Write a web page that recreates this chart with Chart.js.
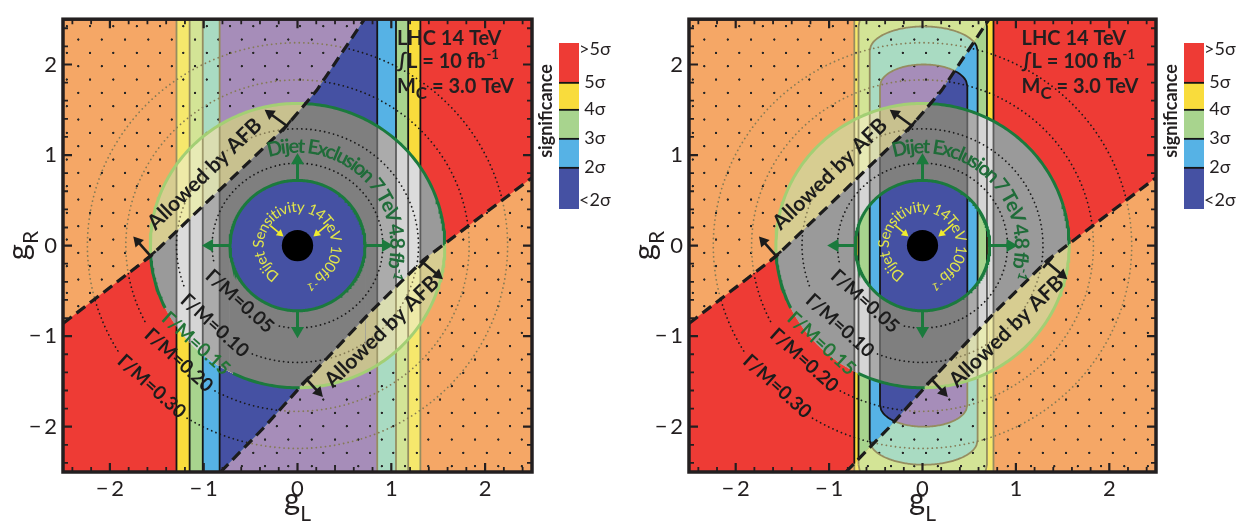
<!DOCTYPE html>
<html>
<head>
<meta charset="utf-8">
<title>AFB vs dijet significance</title>
<script src="https://cdn.jsdelivr.net/npm/chart.js@4.4.1/dist/chart.umd.min.js"></script>
<style>
  html, body { margin: 0; padding: 0; background: #fff; }
  #page { position: relative; width: 1252px; height: 529px; overflow: hidden; }
  #page canvas { position: absolute; top: 0; }
</style>
</head>
<body>
<div id="page">
  <canvas id="barL" width="100" height="529" style="left:530px;width:100px;height:529px"></canvas>
  <canvas id="barR" width="100" height="529" style="left:1155px;width:100px;height:529px"></canvas>
  <canvas id="mainL" width="545" height="529" style="left:0px;width:545px;height:529px"></canvas>
  <canvas id="mainR" width="545" height="529" style="left:626px;width:545px;height:529px"></canvas>
</div>
<script>
// axis ticks (gL and gR share them)
const gTicks = [-2, -1, 0, 1, 2];
const gMinorTicks = [-2.4, -2.2, -1.8, -1.6, -1.4, -1.2, -0.8, -0.6, -0.4, -0.2,
                     0.2, 0.4, 0.6, 0.8, 1.2, 1.4, 1.6, 1.8, 2.2, 2.4];

// AFB boundaries (dashed lines)
const afbUpperGL = [-2.5, -1.57, -0.115, 0.205, 0.72];
const afbUpperGR = [-0.86, -0.12, 1.324, 1.714, 2.51];
const afbLowerGL = [-0.82, -0.365, 0.10, 0.773, 1.34, 2.5];
const afbLowerGR = [-2.5, -2.017, -1.48, -0.738, -0.16, 0.75];

// "Allowed by AFB" arrows and labels
const afbArrowFromGL = [-1.57, -0.115, 0.10, 1.34];
const afbArrowFromGR = [-0.11, 1.324, -1.48, -0.19];
const afbArrowToGL = [-1.75, -0.35, 0.27, 1.55];
const afbArrowToGR = [0.10, 1.50, -1.67, -0.37];
const afbTextGL = [-0.99, 0.90];
const afbTextGR = [0.79, -0.95];

// width contours
const widthLabels = ['0.05', '0.10', '0.15', '0.20', '0.30'];
const widthRadii = [0.91, 1.29, 1.57, 1.83, 2.24];

// dijet circles
const dijetExclRadius = 1.57;   // 7 TeV, 4.8 fb-1
const dijetSensRadius = 0.72;   // 14 TeV, 100 fb-1
const coreRadius = 0.167;
const dijetArrowAngles = [90, 0, 270, 180];
const dijetArrowTipR = 1.02;
const sensArrowFromGL = [-0.29, 0.33];
const sensArrowFromGR = [0.22, 0.24];
const sensArrowToGL = [-0.15, 0.17];
const sensArrowToGR = [0.10, 0.10];

// significance contours, outermost first: 5σ, 4σ, 3σ, 2σ
// left/right gL edge, gR where the side turns into a cap, gR of the cap top
const lumi10Left = [-1.29, -1.15, -1.01, -0.83];
const lumi10Right = [1.31, 1.18, 1.05, 0.85];
const lumi10Shoulder = [3, 3, 3, 3];
const lumi10Apex = [3, 3, 3, 3];
const lumi100Left = [-0.73, -0.685, -0.565, -0.455];
const lumi100Right = [0.76, 0.69, 0.59, 0.48];
const lumi100Shoulder = [3, 2.42, 2.15, 1.76];
const lumi100Apex = [3, 2.75, 2.42, 2.0];

// colours per level: >5σ, 4-5σ, 3-4σ, 2-3σ, <2σ
const sigColors = ['#EE3B35', '#F9DC3C', '#A8D48E', '#56B2E5', '#4551A3'];
const fadedColors = ['#F5A766', '#F6E86C', '#D3E496', '#A9DBC2', '#A68DB9'];
const tanColors = ['#D7CD91', '#EEEAA8', '#E7EAB5', '#DADDB1', '#C8C18F'];
const greyColors = ['#9A9A9A', '#DCDCDC', '#D5D5D5', '#ABABAB', '#7F7F7F'];

// colour bar
const sigLevels = ['<2σ', '2σ', '3σ', '4σ', '5σ', '>5σ'];
const barHeights = [42, 29, 29, 27, 39];
const barLabelPos = [9, 42, 71, 100, 127, 160];
const barColors = sigColors.slice().reverse();

// info block
const infoGL = 1.06;
const infoGR = [2.22, 1.96, 1.68];

const DARK_GREEN = '#1B7A3D';
const LIGHT_GREEN = '#A3CF74';
const INK = '#231F20';
const FONT = 'Lato, "Open Sans", sans-serif';
const PX = 93.6;
const STEP = 0.012;
const EPS = 1e-4;

const clampY = v => Math.max(-2.6, Math.min(2.6, v));

function polyEval(xs, ys, x) {
  let i = 0;
  while (i < xs.length - 2 && x > xs[i + 1]) i++;
  const t = (x - xs[i]) / (xs[i + 1] - xs[i]);
  return ys[i] + t * (ys[i + 1] - ys[i]);
}
const upperAt = x => polyEval(afbUpperGL, afbUpperGR, x);
const lowerAt = x => polyEval(afbLowerGL, afbLowerGR, x);
const inStrip = (x, y) => y <= upperAt(x) && y >= lowerAt(x);

function contourColor(x, y) {
  const r = Math.hypot(x, y);
  if (r < dijetSensRadius) return '#151515';
  const s = inStrip(x, y);
  if (r < dijetExclRadius) return s ? '#5c5c5c' : '#a09a6c';
  return s ? '#151515' : '#958d60';
}
const dottedColor = (x, y) => (inStrip(x, y) ? '#1a1a1a' : '#857b55');
const mid = c => [(c.p0.parsed.x + c.p1.parsed.x) / 2, (c.p0.parsed.y + c.p1.parsed.y) / 2];

function sampleXs(a, b, extra) {
  const xs = [];
  const n = Math.max(2, Math.ceil((b - a) / STEP));
  for (let i = 0; i <= n; i++) xs.push(a + (b - a) * i / n);
  (extra || []).forEach(e => { if (e > a && e < b) xs.push(e); });
  return xs.sort((p, q) => p - q);
}

function bandPolygon(a, b, topFn, botFn, extra) {
  const top = [], bot = [];
  sampleXs(a, b, extra).forEach(x => {
    let t = clampY(topFn(x)), lo = clampY(botFn(x));
    if (t < lo) { t = lo = (t + lo) / 2; }
    top.push({ x, y: t });
    bot.push({ x, y: lo });
  });
  return top.concat(bot.reverse());
}

function shapeOf(P, k) {
  if (k === 0) return { x0: -2.5, x1: 2.5, top: () => 3, bot: () => -3 };
  const x0 = P.left[k - 1], x1 = P.right[k - 1];
  const s = P.shoulder[k - 1], a = P.apex[k - 1];
  const xc = (x0 + x1) / 2, hw = (x1 - x0) / 2;
  const top = x => {
    const u = (x - xc) / hw;
    return s + (a - s) * Math.sqrt(Math.max(0, 1 - u * u));
  };
  return { x0, x1, top, bot: x => -top(x) };
}

function outlinePoints(S) {
  const pts = [];
  const s = Math.min(S.top(S.x0), 2.55);
  for (let y = -s; y < s; y += 0.02) pts.push({ x: S.x0, y });
  sampleXs(S.x0, S.x1).forEach(x => pts.push({ x, y: Math.min(S.top(x), 2.55) }));
  for (let y = s; y > -s; y -= 0.02) pts.push({ x: S.x1, y });
  sampleXs(S.x0, S.x1).reverse().forEach(x => pts.push({ x, y: Math.max(S.bot(x), -2.55) }));
  return pts;
}

function arcPoints(r, a0, a1) {
  const pts = [];
  const n = Math.ceil(Math.abs(a1 - a0));
  for (let i = 0; i <= n; i++) {
    const a = (a0 + (a1 - a0) * i / n) * Math.PI / 180;
    pts.push({ x: r * Math.cos(a), y: r * Math.sin(a) });
  }
  return pts;
}

function fillDs(points, color, order) {
  return { data: points, fill: 'shape', backgroundColor: color, borderWidth: 0, pointRadius: 0, order };
}

function dotPattern(chart) {
  if (chart.$dots) return chart.$dots;
  if (!chart.chartArea || !chart.ctx) return 'rgba(0,0,0,0)';
  const c = document.createElement('canvas');
  c.width = 70; c.height = 80;
  const g = c.getContext('2d');
  g.fillStyle = '#262626';
  [[0, 0], [70, 0], [0, 80], [70, 80], [35, 40]].forEach(([x, y]) => {
    g.beginPath(); g.arc(x, y, 3.4, 0, 2 * Math.PI); g.fill();
  });
  const p = chart.ctx.createPattern(c, 'repeat');
  p.setTransform(new DOMMatrix([1 / 3, 0, 0, 1 / 3, chart.chartArea.left + 3.7, chart.chartArea.top + 7]));
  chart.$dots = p;
  return p;
}

function arrowDs(b, t, color, width, head, order) {
  const dx = t.x - b.x, dy = t.y - b.y, L = Math.hypot(dx, dy);
  const back = head / PX;
  const c = { x: t.x - dx / L * back, y: t.y - dy / L * back };
  return {
    data: [b, c], borderColor: color, borderWidth: width, fill: false,
    pointRadius: [0, head], pointStyle: 'triangle', pointBackgroundColor: color,
    pointBorderColor: color, pointBorderWidth: 0,
    pointRotation: ctx => {
      const s = ctx.chart.scales;
      if (!s || !s.x || !s.y) return 0;
      const kx = s.x.getPixelForValue(1) - s.x.getPixelForValue(0);
      const ky = s.y.getPixelForValue(0) - s.y.getPixelForValue(1);
      return Math.atan2(dx * kx, dy * ky) * 180 / Math.PI;
    },
    order
  };
}

function buildDatasets(P) {
  const ds = [];
  const R = dijetExclRadius, rin = dijetSensRadius;
  const oT = x => Math.sqrt(Math.max(0, R * R - x * x));
  const iT = x => Math.sqrt(Math.max(0, rin * rin - x * x));
  const holeTop = x => (Math.abs(x) < rin ? iT(x) : -oT(x));
  const holeBot = x => (Math.abs(x) < rin ? -iT(x) : -oT(x));
  const brk = [-rin - EPS, -rin + EPS, rin - EPS, rin + EPS];

  for (let k = 0; k < 5; k++) {
    const S = shapeOf(P, k);
    ds.push(fillDs(bandPolygon(S.x0, S.x1, S.top, S.bot), fadedColors[k], 1000 - k));
    ds.push(fillDs(bandPolygon(S.x0, S.x1,
      x => Math.min(S.top(x), upperAt(x)), x => Math.max(S.bot(x), lowerAt(x))), sigColors[k], 980 - k));
    const a = Math.max(S.x0, -R), b = Math.min(S.x1, R);
    ds.push(fillDs(bandPolygon(a, b, x => Math.min(S.top(x), oT(x)),
      x => Math.max(S.bot(x), holeTop(x)), brk), tanColors[k], 970 - k));
    ds.push(fillDs(bandPolygon(a, b, x => Math.min(S.top(x), holeBot(x)),
      x => Math.max(S.bot(x), -oT(x)), brk), tanColors[k], 970 - k));
    ds.push(fillDs(bandPolygon(a, b, x => Math.min(S.top(x), oT(x), upperAt(x)),
      x => Math.max(S.bot(x), holeTop(x), lowerAt(x)), brk), greyColors[k], 960 - k));
    ds.push(fillDs(bandPolygon(a, b, x => Math.min(S.top(x), holeBot(x), upperAt(x)),
      x => Math.max(S.bot(x), -oT(x), lowerAt(x)), brk), greyColors[k], 960 - k));
    if (k > 0) {
      ds.push({
        data: outlinePoints(S), borderWidth: 1.8, borderColor: '#151515', fill: false, pointRadius: 0,
        segment: { borderColor: c => contourColor(...mid(c)) }, order: 950
      });
    }
  }
  // texture of the AFB-excluded area
  ds.push({
    data: [{ x: -2.5, y: 2.6 }, { x: 2.5, y: 2.6 }, { x: 2.5, y: -2.6 }, { x: -2.5, y: -2.6 }],
    fill: 'shape', backgroundColor: c => dotPattern(c.chart), borderWidth: 0, pointRadius: 0, order: 990
  });

  // Γ/M circles
  widthRadii.forEach((r, i) => {
    const gap = (0.52 / r) * 180 / Math.PI;
    if (i === 2) {
      ds.push({
        data: arcPoints(r, 225 + gap, 585 - gap), borderWidth: 3, borderColor: DARK_GREEN, fill: false, pointRadius: 0,
        segment: { borderColor: c => (inStrip(...mid(c)) ? DARK_GREEN : LIGHT_GREEN) }, order: 935
      });
      return;
    }
    ds.push({
      data: arcPoints(r, 225 + gap, 585 - gap), borderWidth: 1.8, borderDash: [0.01, 4.6], borderCapStyle: 'round',
      borderColor: '#1a1a1a', fill: false, pointRadius: 0,
      segment: { borderColor: c => dottedColor(...mid(c)) }, order: 940
    });
  });
  ds.push({ data: arcPoints(dijetSensRadius, 0, 360), borderWidth: 3, borderColor: DARK_GREEN, fill: false, pointRadius: 0, order: 935 });
  ds.push({
    data: [{ x: 0, y: 0 }], showLine: false, pointBackgroundColor: '#000', pointBorderWidth: 0, order: 930,
    pointRadius: c => {
      const s = c.chart.scales;
      if (!s || !s.x) return 15;
      return coreRadius * (s.x.getPixelForValue(1) - s.x.getPixelForValue(0));
    }
  });

  // AFB dashed boundaries
  ds.push({ data: afbUpperGL.map((x, i) => ({ x, y: afbUpperGR[i] })), borderWidth: 3.2, borderDash: [11, 6],
    borderColor: '#1c1c1c', fill: false, pointRadius: 0, order: 920 });
  ds.push({ data: afbLowerGL.map((x, i) => ({ x, y: afbLowerGR[i] })), borderWidth: 3.2, borderDash: [11, 6],
    borderColor: '#1c1c1c', fill: false, pointRadius: 0, order: 920 });

  // AFB arrows with a bar at their foot
  afbArrowFromGL.forEach((x, i) => {
    const b = { x, y: afbArrowFromGR[i] }, t = { x: afbArrowToGL[i], y: afbArrowToGR[i] };
    ds.push(arrowDs(b, t, '#1c1c1c', 2.6, 6.5, 910));
    const dx = t.x - b.x, dy = t.y - b.y, L = Math.hypot(dx, dy), h = 0.075;
    ds.push({ data: [{ x: b.x + dy / L * h, y: b.y - dx / L * h }, { x: b.x - dy / L * h, y: b.y + dx / L * h }],
      borderWidth: 2.6, borderColor: '#1c1c1c', fill: false, pointRadius: 0, order: 910 });
  });
  // dijet exclusion arrows
  dijetArrowAngles.forEach(a => {
    const c = Math.cos(a * Math.PI / 180), s = Math.sin(a * Math.PI / 180);
    ds.push(arrowDs({ x: dijetSensRadius * c, y: dijetSensRadius * s },
      { x: dijetArrowTipR * c, y: dijetArrowTipR * s }, DARK_GREEN, 3, 7.5, 905));
  });
  // dijet sensitivity arrows
  sensArrowFromGL.forEach((x, i) => {
    ds.push(arrowDs({ x, y: sensArrowFromGR[i] }, { x: sensArrowToGL[i], y: sensArrowToGR[i] }, '#F0EC2E', 1.6, 4.5, 905));
  });
  return ds;
}

function arcText(ctx, parts, cx, cy, r, a0, a1, color) {
  const glyphs = [];
  parts.forEach(p => {
    ctx.font = p.font;
    for (const ch of p.text) glyphs.push({ ch, font: p.font, w: ctx.measureText(ch).width, rise: p.rise || 0 });
  });
  const total = glyphs.reduce((s, g) => s + g.w, 0);
  const k = ((a1 - a0) * Math.PI / 180) * r / total;
  let a = a0 * Math.PI / 180;
  ctx.fillStyle = color;
  ctx.textAlign = 'center';
  ctx.textBaseline = 'alphabetic';
  glyphs.forEach(g => {
    const da = g.w * k / r, m = a + da / 2;
    ctx.save();
    ctx.translate(cx + r * Math.sin(m), cy - r * Math.cos(m));
    ctx.rotate(m);
    ctx.font = g.font;
    ctx.fillText(g.ch, 0, -g.rise);
    ctx.restore();
    a += da;
  });
}

function makeDecor(P) {
  return {
    id: 'decor' + P.id,
    afterDatasetsDraw(chart) {
      const { ctx, chartArea: ca, scales } = chart;
      const X = v => scales.x.getPixelForValue(v), Y = v => scales.y.getPixelForValue(v);
      const u = X(1) - X(0);
      const cx = X(0), cy = Y(0);
      ctx.save();

      // Γ/M labels sit on their circles
      ctx.textAlign = 'center';
      ctx.textBaseline = 'middle';
      ctx.font = 'bold 19px ' + FONT;
      widthLabels.forEach((lab, i) => {
        const r = widthRadii[i] - 0.04, a = 225 * Math.PI / 180;
        ctx.save();
        ctx.translate(X(r * Math.cos(a)), Y(r * Math.sin(a)));
        ctx.rotate(42 * Math.PI / 180);
        ctx.fillStyle = i === 2 ? '#237536' : '#1c1c1c';
        ctx.fillText('Γ/M=' + lab, 0, 0);
        ctx.restore();
      });

      arcText(ctx, [{ text: 'Dijet Exclusion 7 TeV 4.8 fb', font: 'bold 20px ' + FONT },
                    { text: '-1', font: 'bold 13px ' + FONT, rise: 8 }],
        cx, cy, 0.99 * u, -17, 109, '#1F6C39');
      arcText(ctx, [{ text: 'Dijet Sensitivity 14TeV 100fb', font: '15px ' + FONT },
                    { text: '-1', font: '11px ' + FONT, rise: 6 }],
        cx, cy, 0.36 * u, -148, 167, '#E1E54A');

      ctx.font = 'bold 21px ' + FONT;
      ctx.fillStyle = '#1c1c1c';
      ctx.textAlign = 'center';
      ctx.textBaseline = 'middle';
      afbTextGL.forEach((x, i) => {
        ctx.save();
        ctx.translate(X(x), Y(afbTextGR[i]));
        ctx.rotate(-44 * Math.PI / 180);
        ctx.fillText('Allowed by AFB', 0, 0);
        ctx.restore();
      });

      // info block
      const ix = X(infoGL);
      ctx.textAlign = 'left';
      ctx.textBaseline = 'alphabetic';
      ctx.fillStyle = INK;
      ctx.font = 'bold 20px ' + FONT;
      ctx.fillText('LHC 14 TeV', ix, Y(infoGR[0]));
      let t = '\u222BL = ' + P.lumi + ' fb';
      ctx.fillText(t, ix, Y(infoGR[1]));
      let w = ctx.measureText(t).width;
      ctx.font = 'bold 13px ' + FONT;
      ctx.fillText('-1', ix + w + 1, Y(infoGR[1]) - 9);
      ctx.font = 'bold 20px ' + FONT;
      ctx.fillText('M', ix, Y(infoGR[2]));
      w = ctx.measureText('M').width;
      ctx.font = 'bold 17px ' + FONT;
      ctx.fillText('C', ix + w, Y(infoGR[2]) + 6);
      w += ctx.measureText('C').width;
      ctx.font = 'bold 20px ' + FONT;
      ctx.fillText(' = 3.0 TeV', ix + w, Y(infoGR[2]));

      // inward ticks and frame
      ctx.strokeStyle = INK;
      const tick = (v, len) => {
        const px = X(v), py = Y(v);
        ctx.beginPath();
        ctx.moveTo(px, ca.bottom); ctx.lineTo(px, ca.bottom - len);
        ctx.moveTo(px, ca.top); ctx.lineTo(px, ca.top + len);
        ctx.moveTo(ca.left, py); ctx.lineTo(ca.left + len, py);
        ctx.moveTo(ca.right, py); ctx.lineTo(ca.right - len, py);
        ctx.stroke();
      };
      ctx.lineWidth = 2.2;
      gTicks.forEach(v => tick(v, 9));
      ctx.lineWidth = 1.8;
      gMinorTicks.forEach(v => tick(v, 5));
      ctx.lineWidth = 3.5;
      ctx.strokeRect(ca.left, ca.top, ca.right - ca.left, ca.bottom - ca.top);

      // axis titles with subscripts
      ctx.fillStyle = INK;
      ctx.textAlign = 'left';
      ctx.font = '31px ' + FONT;
      const wg = ctx.measureText('g').width;
      ctx.font = '21px ' + FONT;
      const wl = ctx.measureText('L').width;
      let x0 = cx - (wg + wl) / 2;
      ctx.font = '31px ' + FONT;
      ctx.fillText('g', x0, ca.bottom + 38);
      ctx.font = '21px ' + FONT;
      ctx.fillText('L', x0 + wg, ca.bottom + 49);

      ctx.save();
      ctx.translate(ca.left - 34, cy);
      ctx.rotate(-Math.PI / 2);
      ctx.font = '21px ' + FONT;
      const wr = ctx.measureText('R').width;
      x0 = -(wg + wr) / 2;
      ctx.font = '31px ' + FONT;
      ctx.fillText('g', x0, 0);
      ctx.font = '21px ' + FONT;
      ctx.fillText('R', x0 + wg, 9);
      ctx.restore();

      ctx.restore();
    }
  };
}

function minusLabel(v) {
  return v < 0 ? '\u2212\u2009' + Math.abs(v) : String(v);
}

function makePanel(P, padRight) {
  return new Chart(document.getElementById(P.id), {
    type: 'line',
    data: { datasets: buildDatasets(P) },
    options: {
      responsive: false,
      animation: false,
      events: [],
      layout: { padding: { top: 3, right: padRight, left: 0, bottom: 0 } },
      elements: { point: { radius: 0 }, line: { tension: 0 } },
      plugins: { legend: { display: false }, tooltip: { enabled: false } },
      scales: {
        x: {
          type: 'linear', min: -2.5, max: 2.5,
          grid: { display: false, drawTicks: false }, border: { display: false },
          afterBuildTicks: a => { a.ticks = gTicks.map(v => ({ value: v })); },
          afterFit: a => { a.height = 57; },
          ticks: { autoSkip: false, maxRotation: 0, padding: 4, color: INK, font: { family: FONT, size: 22 }, callback: minusLabel }
        },
        y: {
          type: 'linear', min: -2.5, max: 2.5,
          grid: { display: false, drawTicks: false }, border: { display: false },
          afterBuildTicks: a => { a.ticks = gTicks.map(v => ({ value: v })); },
          afterFit: a => { a.width = 63; },
          ticks: { autoSkip: false, padding: 6, color: INK, font: { family: FONT, size: 22 }, callback: minusLabel }
        }
      }
    },
    plugins: [makeDecor(P)]
  });
}

const sigTitle = {
  id: 'sigTitle',
  afterDraw(chart) {
    const { ctx, chartArea: ca } = chart;
    ctx.save();
    ctx.translate(ca.left - 13, ca.top + 68);
    ctx.rotate(-Math.PI / 2);
    ctx.font = 'bold 18px ' + FONT;
    ctx.fillStyle = INK;
    ctx.textAlign = 'center';
    ctx.textBaseline = 'middle';
    ctx.fillText('significance', 0, 0);
    ctx.restore();
  }
};

function makeBar(id) {
  return new Chart(document.getElementById(id), {
    type: 'bar',
    data: {
      labels: [''],
      datasets: barColors.map((c, i) => ({
        data: [barHeights[i]], backgroundColor: c, borderColor: '#151515',
        borderWidth: i < barColors.length - 1 ? { top: 2.2, bottom: 0, left: 0, right: 0 } : 0,
        borderSkipped: false, barPercentage: 1, categoryPercentage: 1
      }))
    },
    options: {
      responsive: false,
      animation: false,
      events: [],
      layout: { padding: { left: 29, right: 5, top: 43, bottom: 320 } },
      plugins: { legend: { display: false }, tooltip: { enabled: false } },
      scales: {
        x: { stacked: true, display: false },
        y: {
          stacked: true, position: 'right', min: 0, max: barHeights.reduce((s, v) => s + v, 0),
          grid: { display: false, drawTicks: false }, border: { display: false },
          afterBuildTicks: a => { a.ticks = barLabelPos.map(v => ({ value: v })); },
          afterFit: a => { a.width = 46; },
          ticks: { autoSkip: false, padding: 0, crossAlign: 'center', color: INK,
                   font: { family: FONT, size: 18 }, callback: (v, i) => sigLevels[i] }
        }
      }
    },
    plugins: [sigTitle]
  });
}

makeBar('barL');
makeBar('barR');
makePanel({ id: 'mainL', lumi: '10', left: lumi10Left, right: lumi10Right, shoulder: lumi10Shoulder, apex: lumi10Apex }, 13);
makePanel({ id: 'mainR', lumi: '100', left: lumi100Left, right: lumi100Right, shoulder: lumi100Shoulder, apex: lumi100Apex }, 15);
</script>
</body>
</html>
